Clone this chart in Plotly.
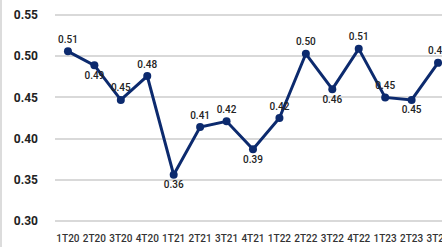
import plotly.graph_objects as go

categories = ["1T20", "2T20", "3T20", "4T20", "1T21", "2T21", "3T21", "4T21",
              "1T22", "2T22", "3T22", "4T22", "1T23", "2T23", "3T23"]
values = [0.506, 0.489, 0.447, 0.476, 0.356, 0.414, 0.421, 0.387,
          0.425, 0.503, 0.460, 0.509, 0.450, 0.447, 0.492]
labels = ["0.51", "0.49", "0.45", "0.48", "0.36", "0.41", "0.42", "0.39",
          "0.42", "0.50", "0.46", "0.51", "0.45", "0.45", "0.49"]
label_pos = ["top center", "bottom center", "top center", "top center", "bottom center",
             "top center", "top center", "bottom center", "top center", "top center",
             "bottom center", "top center", "top center", "bottom center", "top center"]
y_ticks = [0.30, 0.35, 0.40, 0.45, 0.50, 0.55]

navy = "#0c2a6e"

fig = go.Figure()
fig.add_trace(go.Scatter(
    x=list(range(len(categories))), y=values,
    mode="lines+markers+text",
    line=dict(color=navy, width=3),
    marker=dict(color=navy, size=8),
    text=labels, textposition=label_pos,
    textfont=dict(family="Roboto", size=10, color="#222222", weight=500),
    cliponaxis=False, hoverinfo="skip",
))

fig.update_layout(
    width=442, height=247,
    margin=dict(l=55, r=0, t=11, b=22, autoexpand=False),
    paper_bgcolor="white", plot_bgcolor="white",
    showlegend=False,
    xaxis=dict(
        tickmode="array", tickvals=list(range(len(categories))), ticktext=categories,
        range=[-0.49, 14.15], showgrid=False, zeroline=False, showline=False,
        ticks="outside", ticklen=4, tickcolor="rgba(0,0,0,0)",
        ticklabeloverflow="allow", automargin=False,
        tickfont=dict(family="Roboto", size=10, color="#333333", weight=500),
    ),
    yaxis=dict(
        range=[0.295, 0.555], tickmode="array", tickvals=y_ticks,
        ticktext=[f"{v:.2f}" for v in y_ticks],
        showgrid=True, gridcolor="#d9d9d9", gridwidth=1.5,
        zeroline=False, showline=False, ticklabelstandoff=16, automargin=False,
        tickfont=dict(family="Roboto", size=12, color="#222222", weight="bold"),
    ),
    shapes=[dict(type="line", xref="paper", yref="paper",
                 x0=-54/387, x1=-54/387, y0=-0.2, y1=1.2,
                 line=dict(color="#d0d0d0", width=1.5))],
)

fig.write_html("out.html", config={"displayModeBar": False},
               post_script="document.body.style.margin='0';document.body.style.overflow='hidden';")
